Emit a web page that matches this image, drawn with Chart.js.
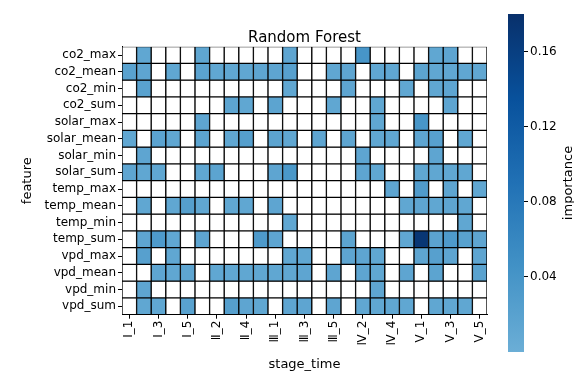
<!DOCTYPE html>
<html>
<head>
<meta charset="utf-8">
<script src="https://cdn.jsdelivr.net/npm/chart.js@4"></script>
<style>
  body { margin: 0; background: #fff; }
  #wrap { position: relative; width: 574px; height: 372px; }
  #heat, #cbar { position: absolute; top: 0; }
  #heat { left: 0; }
  #cbar { left: 490px; }
</style>
</head>
<body>
<div id="wrap">
  <canvas id="heat" width="574" height="372"></canvas>
  <canvas id="cbar" width="84" height="372"></canvas>
</div>
<script>
const features = ["co2_max", "co2_mean", "co2_min", "co2_sum", "solar_max", "solar_mean", "solar_min", "solar_sum",
    "temp_max", "temp_mean", "temp_min", "temp_sum", "vpd_max", "vpd_mean", "vpd_min", "vpd_sum"];

const stages = ["Ⅰ_1", "Ⅰ_2", "Ⅰ_3", "Ⅰ_4", "Ⅰ_5", "Ⅱ_1", "Ⅱ_2", "Ⅱ_3", "Ⅱ_4", "Ⅱ_5",
    "Ⅲ_1", "Ⅲ_2", "Ⅲ_3", "Ⅲ_4", "Ⅲ_5", "Ⅳ_1", "Ⅳ_2", "Ⅳ_3", "Ⅳ_4", "Ⅳ_5",
    "Ⅴ_1", "Ⅴ_2", "Ⅴ_3", "Ⅴ_4", "Ⅴ_5"];

// importance per feature (row), one value per stage; 0 = not used (white)
const co2_max    = [0, .012, 0, 0, 0, .013, 0, 0, 0, 0, 0, .014, 0, 0, 0, 0, .040, 0, 0, 0, 0, .012, .014, 0, 0];
const co2_mean   = [.020, .014, 0, .012, 0, .018, .012, .012, .012, .014, .014, .022, 0, 0, .012, .014, 0, .012, .012, 0, .016, .012, .012, .012, .012];
const co2_min    = [0, .020, 0, 0, 0, 0, 0, 0, 0, 0, 0, .012, 0, 0, 0, .014, 0, 0, 0, .012, 0, .012, .014, 0, 0];
const co2_sum    = [0, 0, 0, 0, 0, 0, 0, .016, .012, 0, .016, 0, 0, 0, .012, 0, 0, .012, 0, 0, 0, 0, .014, 0, 0];
const solar_max  = [0, 0, 0, 0, 0, .014, 0, 0, 0, 0, 0, 0, 0, 0, 0, 0, 0, .012, 0, 0, .038, 0, 0, 0, 0];
const solar_mean = [.012, 0, .018, .012, 0, .016, 0, .012, .024, 0, .016, .012, 0, .014, 0, .014, 0, .012, .012, 0, .014, .022, 0, .012, 0];
const solar_min  = [0, .014, 0, 0, 0, 0, 0, 0, 0, 0, 0, 0, 0, 0, 0, 0, .014, 0, 0, 0, 0, .014, 0, 0, 0];
const solar_sum  = [.014, .012, .012, 0, 0, .012, .016, 0, 0, 0, .014, .036, 0, 0, 0, 0, .014, .012, 0, 0, .012, .012, .012, .012, 0];
const temp_max   = [0, 0, 0, 0, 0, 0, 0, 0, 0, 0, 0, 0, 0, 0, 0, 0, 0, 0, .014, 0, .030, 0, .014, 0, .012];
const temp_mean  = [0, .012, 0, .012, .024, .012, 0, .012, .012, 0, .014, 0, 0, 0, 0, 0, 0, 0, 0, .012, .014, .012, .014, .012, 0];
const temp_min   = [0, 0, 0, 0, 0, 0, 0, 0, 0, 0, 0, .012, 0, 0, 0, 0, 0, 0, 0, 0, 0, 0, 0, .012, 0];
const temp_sum   = [0, .014, .032, .012, 0, .014, 0, 0, 0, .032, .014, 0, 0, 0, 0, .016, 0, 0, 0, .012, .172, .018, .032, .020, .014];
const vpd_max    = [0, .022, 0, .012, 0, 0, 0, 0, 0, 0, 0, .012, .012, 0, 0, .014, .014, .012, 0, 0, .014, .022, .014, 0, .014];
const vpd_mean   = [0, 0, .014, .012, .014, 0, .012, .012, .012, .012, .012, .012, .014, 0, .014, 0, .014, .012, 0, .014, 0, .016, 0, 0, .020];
const vpd_min    = [0, .014, 0, 0, 0, 0, 0, 0, 0, 0, 0, 0, 0, 0, 0, 0, 0, .014, 0, 0, 0, 0, 0, 0, 0];
const vpd_sum    = [0, .012, .012, 0, .020, 0, 0, .024, .014, .012, 0, .014, .014, 0, .014, 0, .012, .012, .012, .012, 0, .012, .012, .012, 0];

const importance = [co2_max, co2_mean, co2_min, co2_sum, solar_max, solar_mean, solar_min, solar_sum,
    temp_max, temp_mean, temp_min, temp_sum, vpd_max, vpd_mean, vpd_min, vpd_sum];

const cbMin = 0;
const cbMax = 0.18;
const cbTicks = [0.04, 0.08, 0.12, 0.16];

// upper half of matplotlib "Blues"
const blues = [[107, 174, 214], [66, 146, 198], [33, 113, 181], [8, 81, 156], [8, 48, 107]];

function cellColor(v) {
    if (!v) return "#ffffff";
    let t = Math.min(1, Math.max(0, (v - cbMin) / (cbMax - cbMin))) * (blues.length - 1);
    const i = Math.min(blues.length - 2, Math.floor(t));
    const f = t - i;
    const c = blues[i].map((a, k) => Math.round(a + (blues[i + 1][k] - a) * f));
    return `rgb(${c[0]},${c[1]},${c[2]})`;
}

Chart.defaults.font.family = "DejaVu Sans";
Chart.defaults.color = "#000";

new Chart(document.getElementById("heat"), {
    type: "bar",
    data: {
        labels: stages,
        datasets: features.map((f, i) => ({
            label: f,
            data: stages.map(() => 1),
            backgroundColor: importance[i].map(cellColor),
            borderColor: "#000",
            borderWidth: 1,
            borderSkipped: false,
            stack: "grid",
            barPercentage: 1,
            categoryPercentage: 1,
        })),
    },
    options: {
        responsive: false,
        animation: false,
        layout: { padding: { left: 0, right: 87, top: 0, bottom: 0 } },
        plugins: { legend: { display: false }, tooltip: { enabled: false } },
        scales: {
            x: {
                stacked: true,
                grid: {
                    offset: false,
                    drawOnChartArea: false,
                    tickLength: 4,
                    color: (ctx) => (ctx.index % 2 === 0 ? "#000" : "rgba(0,0,0,0)"),
                },
                border: { color: "#000" },
                ticks: {
                    autoSkip: false,
                    maxRotation: 90,
                    minRotation: 90,
                    padding: 2,
                    font: { size: 12 },
                    callback: (v, i) => (i % 2 === 0 ? stages[i] : ""),
                },
                title: { display: true, text: "stage_time", font: { size: 13 }, padding: { top: 0, bottom: 0 } },
                afterFit: (s) => { s.height = 57.3; },
            },
            xTop: {
                type: "category",
                position: "top",
                labels: stages,
                grid: { display: false },
                border: { display: false },
                ticks: { display: false },
                title: { display: true, text: "Random Forest", font: { size: 15 }, padding: { top: 29, bottom: 0 } },
                afterFit: (s) => { s.height = 46.7; },
            },
            y: {
                type: "linear",
                stacked: true,
                reverse: true,
                min: 0,
                max: features.length,
                afterBuildTicks: (s) => { s.ticks = features.map((f, i) => ({ value: i + 0.5 })); },
                grid: { drawOnChartArea: false, tickLength: 4, color: "#000" },
                border: { color: "#000" },
                ticks: {
                    autoSkip: false,
                    padding: 2,
                    font: { size: 12 },
                    callback: (v) => features[Math.floor(v)],
                },
                title: { display: true, text: "feature", font: { size: 13 }, padding: { top: 20, bottom: 0 } },
                afterFit: (s) => { s.width = 122; },
            },
        },
    },
});

const cbLabel = {
    id: "cbLabel",
    afterDraw(chart) {
        const ctx = chart.ctx;
        ctx.save();
        ctx.translate(79, (chart.chartArea.top + chart.chartArea.bottom) / 2);
        ctx.rotate(-Math.PI / 2);
        ctx.font = "13px 'DejaVu Sans'";
        ctx.fillStyle = "#000";
        ctx.textAlign = "center";
        ctx.textBaseline = "middle";
        ctx.fillText("importance", 0, 0);
        ctx.restore();
    },
};

new Chart(document.getElementById("cbar"), {
    type: "bar",
    data: {
        labels: [""],
        datasets: [{
            data: [[cbMin, cbMax]],
            backgroundColor: (ctx) => {
                const area = ctx.chart.chartArea;
                if (!area) return blues[0];
                const g = ctx.chart.ctx.createLinearGradient(0, area.bottom, 0, area.top);
                blues.forEach((c, i) => g.addColorStop(i / (blues.length - 1), `rgb(${c[0]},${c[1]},${c[2]})`));
                return g;
            },
            borderWidth: 0,
            barPercentage: 1,
            categoryPercentage: 1,
        }],
    },
    options: {
        responsive: false,
        animation: false,
        layout: { padding: { left: 18, right: 0, top: 14, bottom: 20 } },
        plugins: { legend: { display: false }, tooltip: { enabled: false } },
        scales: {
            x: { display: false },
            y: {
                position: "right",
                min: cbMin,
                max: cbMax,
                afterBuildTicks: (s) => { s.ticks = cbTicks.map((v) => ({ value: v })); },
                grid: { drawOnChartArea: false, tickLength: 4, color: "#000" },
                border: { display: false },
                ticks: { padding: 2, font: { size: 12 }, callback: (v) => v.toFixed(2) },
                afterFit: (s) => { s.width = 50; },
            },
        },
    },
    plugins: [cbLabel],
});
</script>
</body>
</html>
